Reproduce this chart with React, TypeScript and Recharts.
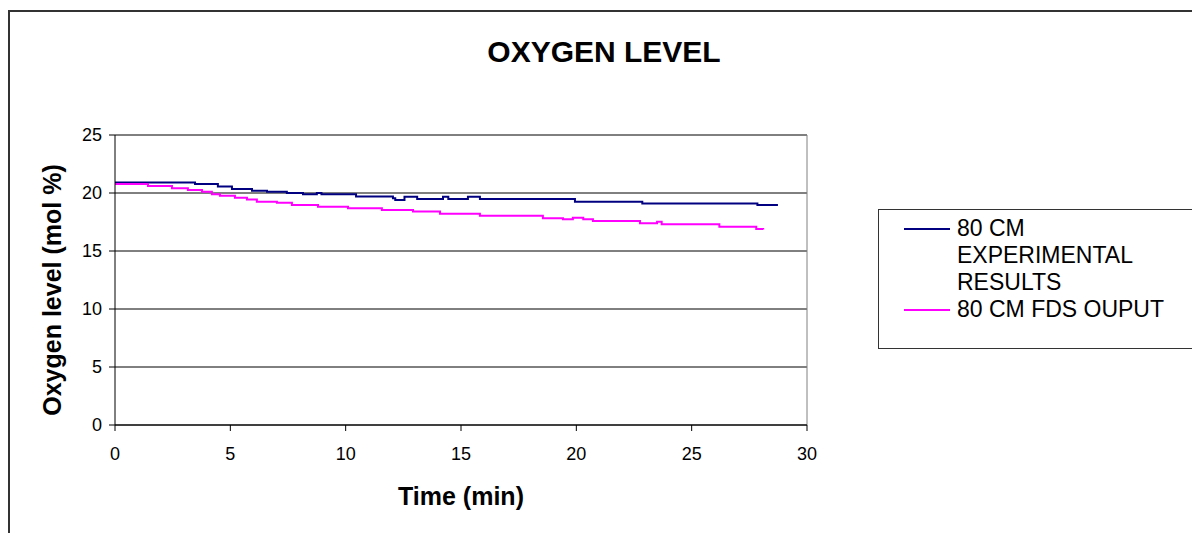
import React from "react";
import {
  LineChart,
  Line,
  XAxis,
  YAxis,
  CartesianGrid,
  ReferenceLine,
  Legend,
  Label,
} from "recharts";

// time (min) / oxygen (mol %)
const expTime = [0, 3.47, 4.46, 5.07, 5.94, 6.59, 7.45, 8.15, 8.75, 8.95, 10.45, 12.05, 12.15, 12.55, 13.1, 14.22, 14.45, 15.3, 15.82, 19.94, 22.86, 27.85, 28.74];
const expO2 = [20.9, 20.78, 20.55, 20.35, 20.2, 20.1, 20.0, 19.9, 20.0, 19.9, 19.7, 19.54, 19.4, 19.68, 19.48, 19.68, 19.48, 19.68, 19.48, 19.25, 19.1, 18.97, 18.97];

const fdsTime = [0, 1.43, 2.47, 3.16, 3.77, 4.2, 4.55, 5.2, 5.72, 6.15, 7.02, 7.67, 8.8, 10.1, 11.57, 12.92, 14.09, 15.82, 18.55, 19.42, 19.85, 20.3, 20.72, 22.76, 23.5, 23.7, 26.2, 27.8, 28.1];
const fdsO2 = [20.78, 20.6, 20.4, 20.26, 20.1, 19.9, 19.77, 19.6, 19.45, 19.25, 19.15, 18.97, 18.82, 18.68, 18.53, 18.4, 18.22, 18.04, 17.82, 17.73, 17.87, 17.73, 17.59, 17.39, 17.53, 17.3, 17.1, 16.9, 16.85];

const xTicks = [0, 5, 10, 15, 20, 25, 30];
const yTicks = [0, 5, 10, 15, 20, 25];
const seriesNames = ["80 CM EXPERIMENTAL RESULTS", "80 CM FDS OUPUT"];

const expData = expTime.map((t, i) => ({ t, o2: expO2[i] }));
const fdsData = fdsTime.map((t, i) => ({ t, o2: fdsO2[i] }));

const FONT = "'Liberation Sans', Arial, sans-serif";

function LegendBox(props: any) {
  const items = props.payload || [];
  return (
    <div
      style={{
        border: "1px solid #333",
        height: 140,
        boxSizing: "border-box",
        paddingTop: 5,
        paddingLeft: 25,
        fontFamily: FONT,
        fontSize: 23,
        lineHeight: "27px",
        color: "#000",
      }}
    >
      {items.map((it: any) => (
        <div key={it.value} style={{ display: "flex", alignItems: "flex-start" }}>
          <div
            style={{
              width: 46,
              height: 2,
              background: it.color,
              marginTop: 13,
              marginRight: 7,
              flexShrink: 0,
            }}
          />
          <div style={{ width: 215 }}>{it.value}</div>
        </div>
      ))}
    </div>
  );
}

export default function App() {
  return (
    <div
      style={{
        position: "fixed",
        left: 0,
        top: 0,
        width: 1192,
        height: 533,
        overflow: "hidden",
        background: "#fff",
        fontFamily: FONT,
      }}
    >
      <div
        style={{
          position: "absolute",
          left: 8,
          top: 10,
          width: 1300,
          height: 600,
          borderLeft: "2px solid #333",
          borderTop: "2px solid #333",
        }}
      />
      <div
        style={{
          position: "absolute",
          left: 304,
          width: 600,
          top: 37,
          textAlign: "center",
          fontSize: 30,
          fontWeight: "bold",
          lineHeight: "30px",
          color: "#000",
        }}
      >
        OXYGEN LEVEL
      </div>
      <div style={{ position: "absolute", left: 0, top: 0 }}>
        <LineChart
          width={1192}
          height={533}
          margin={{ top: 135, right: 385, bottom: 48, left: 55 }}
        >
          <CartesianGrid vertical={false} stroke="#000" />
          <XAxis
            type="number"
            dataKey="t"
            domain={[0, 30]}
            ticks={xTicks}
            height={60}
            tickSize={6}
            tickMargin={16}
            stroke="#000"
            tick={{ fill: "#000", fontSize: 18, fontFamily: FONT }}
            allowDuplicatedCategory={false}
          >
            <Label
              content={(p: any) => {
                const vb = p.viewBox;
                return (
                  <text
                    x={vb.x + vb.width / 2}
                    y={vb.y + 80}
                    textAnchor="middle"
                    fontSize={25}
                    fontWeight="bold"
                    fontFamily={FONT}
                    fill="#000"
                  >
                    Time (min)
                  </text>
                );
              }}
            />
          </XAxis>
          <YAxis
            type="number"
            domain={[0, 25]}
            ticks={yTicks}
            width={60}
            tickSize={6}
            tickMargin={7}
            stroke="#000"
            tick={{ fill: "#000", fontSize: 18, fontFamily: FONT }}
          >
            <Label
              content={(p: any) => {
                const vb = p.viewBox;
                const x = vb.x + 6;
                const y = vb.y + vb.height / 2 + 10;
                return (
                  <text
                    x={x}
                    y={y}
                    transform={`rotate(-90 ${x} ${y})`}
                    textAnchor="middle"
                    fontSize={25}
                    fontWeight="bold"
                    fontFamily={FONT}
                    fill="#000"
                  >
                    Oxygen level (mol %)
                  </text>
                );
              }}
            />
          </YAxis>
          <ReferenceLine y={25} stroke="#808080" />
          <ReferenceLine x={30} stroke="#808080" />
          <Legend
            layout="vertical"
            align="center"
            verticalAlign="middle"
            content={<LegendBox />}
            wrapperStyle={{ left: 878, top: 209, width: 330, height: 140 }}
          />
          <Line
            data={expData}
            dataKey="o2"
            name={seriesNames[0]}
            type="stepAfter"
            stroke="#000080"
            strokeWidth={2}
            dot={false}
            isAnimationActive={false}
          />
          <Line
            data={fdsData}
            dataKey="o2"
            name={seriesNames[1]}
            type="stepAfter"
            stroke="#FF00FF"
            strokeWidth={2}
            dot={false}
            isAnimationActive={false}
          />
        </LineChart>
      </div>
    </div>
  );
}
